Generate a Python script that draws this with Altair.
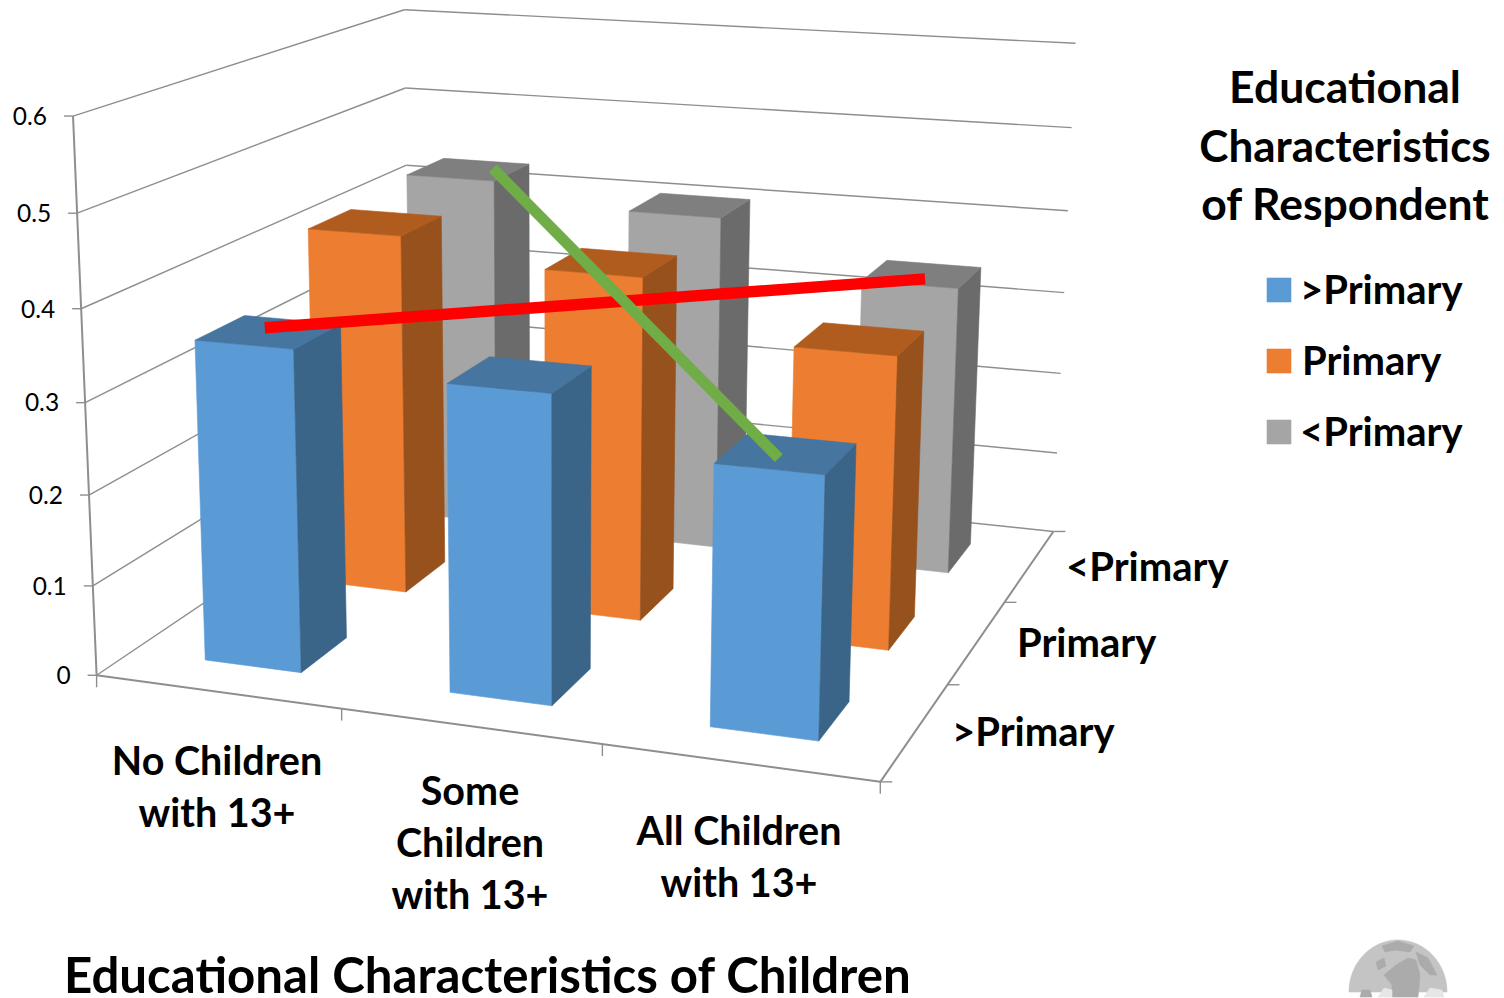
import altair as alt
import numpy as np
import pandas as pd

# Chart values: share per child group (columns) for each respondent group (rows)
categories = [["No Children", "with 13+"], ["Some", "Children", "with 13+"], ["All Children", "with 13+"]]
series = [">Primary", "Primary", "<Primary"]
values = {
    ">Primary": [0.355, 0.334, 0.278],
    "Primary": [0.418, 0.393, 0.33],
    "<Primary": [0.429, 0.404, 0.342],
}
value_ticks = ["0", "0.1", "0.2", "0.3", "0.4", "0.5", "0.6"]
face_colors = {
    ">Primary": ("#5B9BD5", "#3A6488", "#4675A0"),
    "Primary": ("#ED7D31", "#97511D", "#B15C1F"),
    "<Primary": ("#A5A5A5", "#6B6B6B", "#7F7F7F"),
}

# Camera of the 3D box: (across, depth, value) to page pixels, solved by DLT
anchors = [
    (0, 0, 0.6, 73, 117), (0, 0, 0.5, 77, 213), (0, 0, 0.4, 81, 307), (0, 0, 0.1, 93, 586), (0, 0, 0, 97, 676),
    (1, 0, 0, 880, 782), (1, 1, 0, 1053, 531), (1, 1, 0.1, 1057, 453), (1, 1, 0.3, 1065, 293), (1, 1, 0.5, 1072, 128),
    (1, 1, 0.6, 1075, 43), (0, 1, 0.6, 405, 10), (0, 1, 0.5, 405, 88), (0, 1, 0.4, 406, 165),
]
rows = []
for a, b, c, px, py in anchors:
    rows.append([a, b, c, 1, 0, 0, 0, 0, -px * a, -px * b, -px * c, -px])
    rows.append([0, 0, 0, 0, a, b, c, 1, -py * a, -py * b, -py * c, -py])
camera = np.linalg.svd(np.array(rows, float))[2][-1].reshape(3, 4)


def project(a, b, c):
    p = camera @ np.array([a, b, c, 1.0])
    return float(p[0] / p[2]), float(p[1] / p[2])


X = alt.X("x:Q", scale=alt.Scale(domain=[0, 1504], range=[0, 1504], nice=False, zero=False), axis=None)
Y = alt.Y("y:Q", scale=alt.Scale(domain=[0, 998], range=[0, 998], nice=False, zero=False), axis=None)
layers = []


def polygon(points, color):
    pts = list(points) + [points[0]]
    df = pd.DataFrame({"x": [p[0] for p in pts], "y": [p[1] for p in pts], "i": range(len(pts))})
    layers.append(alt.Chart(df).mark_line(fill=color, stroke=color, strokeWidth=0.6, clip=True).encode(x=X, y=Y, order="i:Q"))


def segment(p, q, color, width):
    df = pd.DataFrame({"x": [p[0], q[0]], "y": [p[1], q[1]], "i": [0, 1]})
    layers.append(alt.Chart(df).mark_line(stroke=color, strokeWidth=width, strokeCap="butt").encode(x=X, y=Y, order="i:Q"))


def label(text, x, y, size, weight="bold", align="center", font="Lato"):
    df = pd.DataFrame({"x": [x], "y": [y + 1.8], "t": [text]})
    layers.append(alt.Chart(df).mark_text(font=font, fontSize=size, fontWeight=weight, align=align, baseline="middle", color="#000000").encode(x=X, y=Y, text="t:N"))


# Walls and floor
GRID = "#8E8E8E"
for k in range(7):
    v = k / 10
    if k > 0:
        segment(project(0, 0, v), project(0, 1, v), GRID, 1.4)
        segment(project(0, 1, v), project(1, 1, v), GRID, 1.4)
    lx, ly = project(0, 0, v)
    segment((lx - 9, ly), (lx, ly), GRID, 1.4)
    label(value_ticks[k], lx - 26, ly, 24.5, "normal", align="right")
segment(project(0, 0, 0), project(0, 0, 0.6), GRID, 2)
segment(project(0, 0, 0), project(0, 1, 0), GRID, 1.4)
segment(project(0, 1, 0), project(1, 1, 0), GRID, 1.4)
segment(project(0, 0, 0), project(1, 0, 0), GRID, 2)
segment(project(1, 0, 0), project(1, 1, 0), GRID, 2)
for k in range(4):
    tx, ty = project(k / 3, 0, 0)
    segment((tx, ty), (tx, ty + 12), GRID, 1.4)
    tx, ty = project(1, k / 3, 0)
    segment((tx, ty), (tx + 12, ty), GRID, 1.4)

# Bars, drawn from the back row forward so nearer ones overlap
HALF_W, HALF_D = 0.0665, 0.069
SHIFT_W, SHIFT_D = 0.0015, -0.001


def bar_top_center(si, ci):
    return project((ci + 0.5) / 3, (si + 0.5) / 3, values[series[si]][ci])


def nudged(point, dx, dy):
    return point[0] + dx, point[1] + dy


for si in [2, 1, 0]:
    name = series[si]
    front, side, top = face_colors[name]
    for ci in range(3):
        v = values[name][ci]
        a0, a1 = (ci + 0.5) / 3 + SHIFT_W - HALF_W, (ci + 0.5) / 3 + SHIFT_W + HALF_W
        b0, b1 = (si + 0.5) / 3 + SHIFT_D - HALF_D, (si + 0.5) / 3 + SHIFT_D + HALF_D
        polygon([project(a0, b0, 0), project(a1, b0, 0), project(a1, b0, v), project(a0, b0, v)], front)
        polygon([project(a1, b0, 0), project(a1, b1, 0), project(a1, b1, v), project(a1, b0, v)], side)
        polygon([project(a0, b0, v), project(a1, b0, v), project(a1, b1, v), project(a0, b1, v)], top)

# Hand-placed trend lines laid over the bar tops
segment(nudged(bar_top_center(0, 0), -3, -4), nudged(bar_top_center(2, 2), 4, 5), "#FF0000", 11.5)
segment(nudged(bar_top_center(2, 0), 25, -1), nudged(bar_top_center(0, 2), -6, 5), "#70AD47", 11)

# Category labels
CAT = 39.5
for lines, cx, y0 in zip(categories, [217, 470, 739], [761, 791, 831]):
    for n, line in enumerate(lines):
        label(line, cx, y0 + n * 52.3, CAT)
for name, lx, ly in zip(series, [952, 1017, 1066], [732, 643, 567]):
    label(name, lx, ly, 40, align="left")
label("Educational Characteristics of Children", 64, 976, 49.2, align="left")

# Legend
label("Educational", 1345, 88, 44.5)
label("Characteristics", 1345, 147, 44)
label("of Respondent", 1345, 205, 44.5)
for name, cy, lx in zip(series, [290, 361, 432], [1300, 1302, 1300]):
    polygon([(1267, cy - 12), (1291, cy - 12), (1291, cy + 12), (1267, cy + 12)], face_colors[name][0])
    label(name, lx, cy, 40, align="left")

# Globe emblem in the corner
theta = np.linspace(np.pi, 2 * np.pi, 60)
polygon([(1398 + 49 * np.cos(t), 992 + 52 * np.sin(t)) for t in theta], "#C4C4C4")
for patch in [
    [(1382, 946), (1398, 941), (1414, 946), (1410, 952), (1395, 950), (1385, 952)],
    [(1396, 965), (1408, 958), (1416, 960), (1420, 975), (1418, 997), (1392, 997), (1392, 985), (1384, 975)],
    [(1416, 952), (1428, 958), (1437, 975), (1430, 975), (1420, 965)],
    [(1376, 962), (1384, 958), (1386, 966), (1378, 970)],
    [(1360, 997), (1362, 990), (1370, 990), (1372, 997)],
]:
    polygon(patch, "#ABABAB")
for patch in [
    [(1378, 997), (1384, 988), (1392, 990), (1392, 997)],
    [(1424, 997), (1430, 988), (1442, 990), (1444, 997)],
]:
    polygon(patch, "#E6E6E6")

chart = alt.layer(*layers).properties(
    width=1504, height=998, padding=0, autosize=alt.AutoSizeParams(type="none"), background="#FFFFFF",
).configure_view(stroke=None)
chart.save("out.html", embed_options={"renderer": "svg", "actions": False})
